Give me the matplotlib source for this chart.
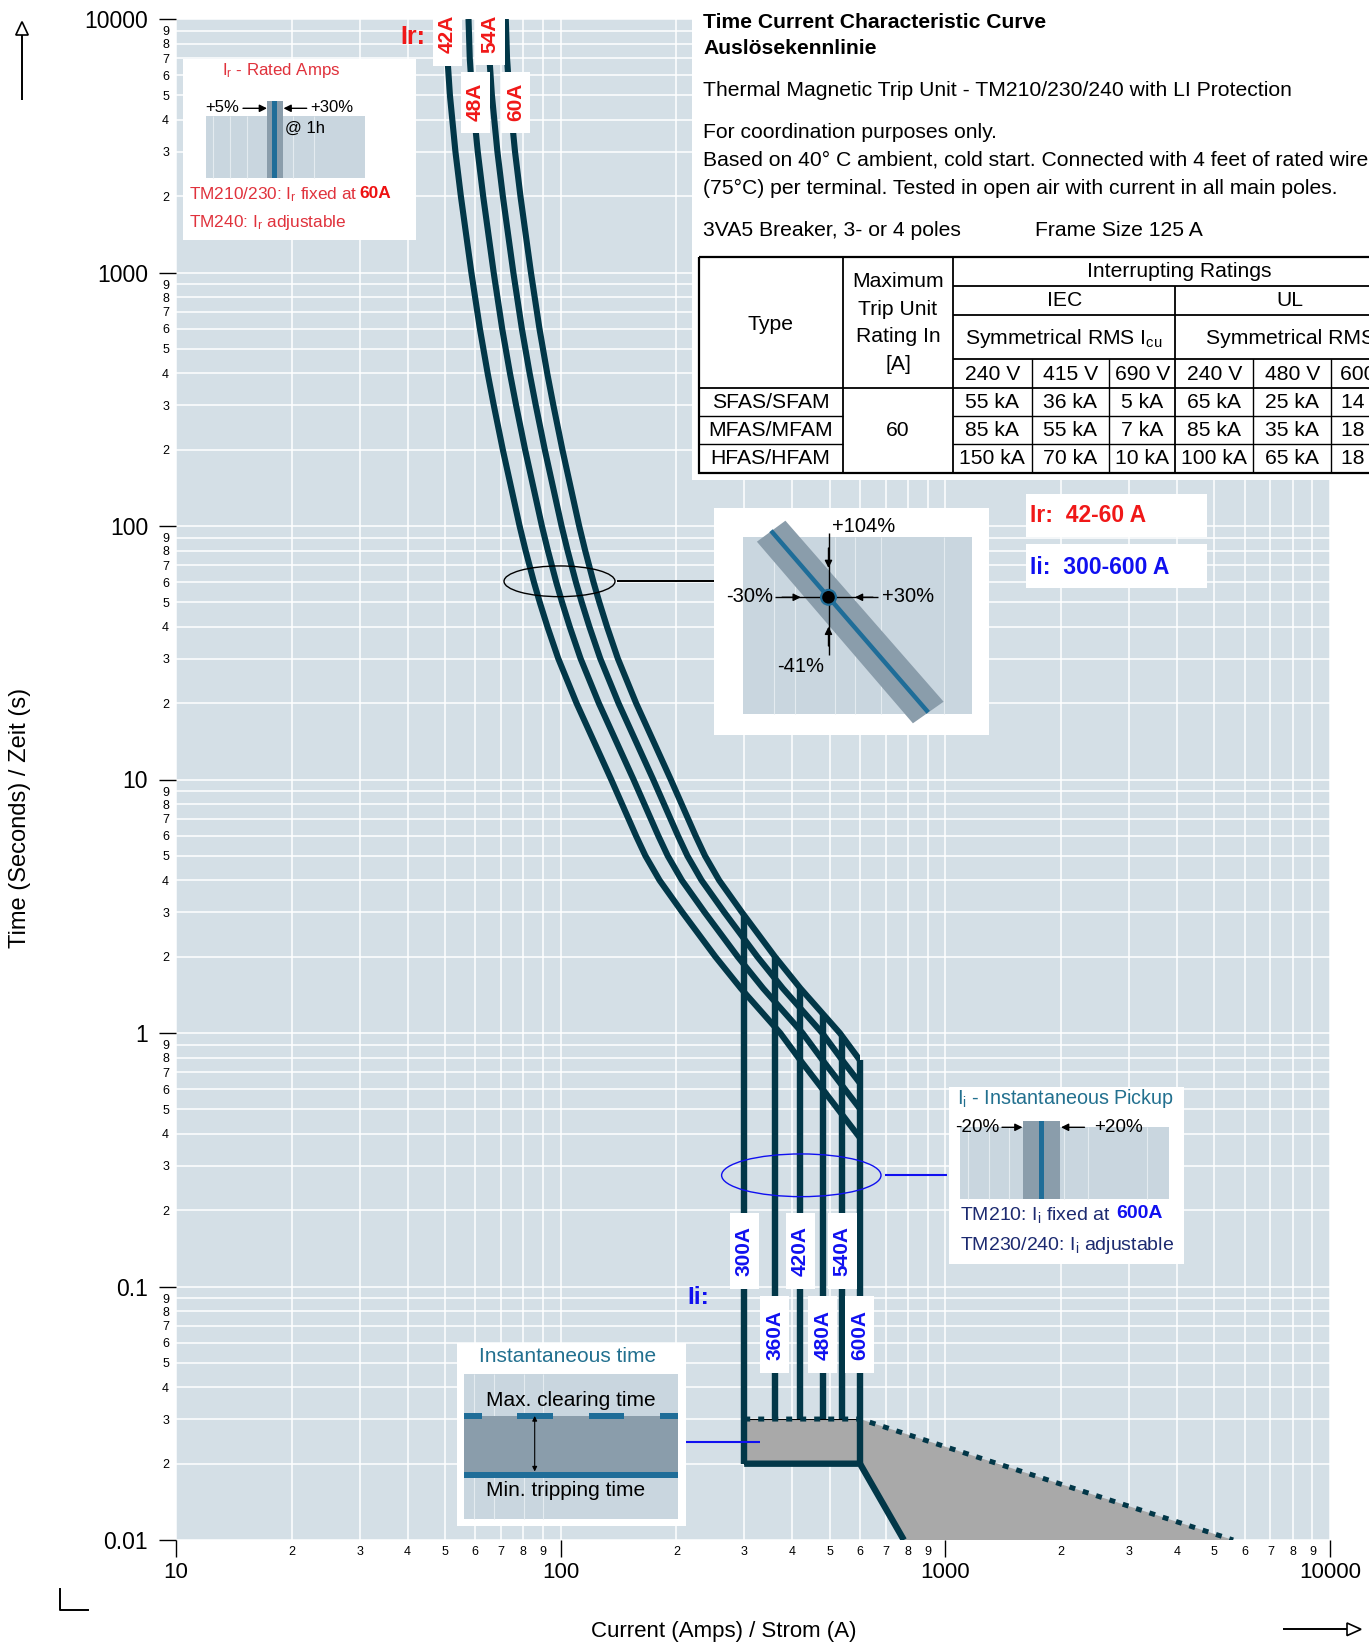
import numpy as np
import matplotlib
matplotlib.use('Agg')
import matplotlib.pyplot as plt
from matplotlib.patches import Rectangle, Polygon, Ellipse, Circle
from matplotlib.ticker import FixedLocator, FixedFormatter

plt.rcParams['font.family'] = ['Liberation Sans', 'DejaVu Sans']
plt.rcParams['mathtext.fontset'] = 'custom'
plt.rcParams['mathtext.rm'] = 'Liberation Sans'
plt.rcParams['mathtext.it'] = 'Liberation Sans:italic'
plt.rcParams['mathtext.bf'] = 'Liberation Sans:bold'

# ---------------- data ----------------
ir_settings = [42, 48, 54, 60]
ii_settings = [300, 360, 420, 480, 540, 600]
trip_multiple = [1.200, 1.209, 1.227, 1.268, 1.310, 1.395, 1.468, 1.538, 1.595, 1.684,
                 1.862, 1.930, 2.029, 2.101, 2.200, 2.347, 2.618, 3.222, 3.737, 3.954,
                 4.305, 4.927, 6.010, 7.00, 8.86, 10.0, 14.3]
trip_time = [10000, 7000, 5000, 3000, 2000, 1000, 600, 400, 300, 200,
             100, 80, 60, 50, 40, 30, 20, 10, 6, 5,
             4, 3, 2, 1.5, 1, 0.78, 0.385]
inst_min_time = 0.02
inst_max_time = 0.03
max_clear_current = [300, 600, 5600]
max_clear_time = [0.03, 0.03, 0.01]
min_trip_current = [300, 600, 780]
min_trip_time = [0.02, 0.02, 0.01]

x_major_ticks = [10, 100, 1000, 10000]
x_major_labels = ['10', '100', '1000', '10000']
y_major_ticks = [0.01, 0.1, 1, 10, 100, 1000, 10000]
y_major_labels = ['0.01', '0.1', '1', '10', '100', '1000', '10000']
minor_digits = [2, 3, 4, 5, 6, 7, 8, 9]

table_types = ['SFAS/SFAM', 'MFAS/MFAM', 'HFAS/HFAM']
table_max_rating = 60
iec_voltages = ['240 V', '415 V', '690 V']
ul_voltages = ['240 V', '480 V', '600 V']
iec_ka = [[55, 36, 5], [85, 55, 7], [150, 70, 10]]
ul_ka = [[65, 25, 14], [85, 35, 18], [100, 65, 18]]

# ---------------- style ----------------
BG = '#d4dfe6'
NAVY = '#023748'
GRAYFILL = '#a9a9a9'
INSET_BG = '#c9d6df'
BAND = '#8a9dab'
STRIPE = '#1f6d98'
TEAL = '#22708f'
RED = '#f01818'
IRED = '#e0323c'
BLUE = '#1010f0'
NAVYTXT = '#1c2a70'

W, H = 1369, 1645
fig = plt.figure(figsize=(W / 100, H / 100), dpi=100)
fig.patch.set_facecolor('white')
ax = fig.add_axes([176 / W, 1 - 1540 / H, 1154 / W, 1521 / H])
ax.set_xscale('log')
ax.set_yscale('log')
ax.set_xlim(10, 10000)
ax.set_ylim(0.01, 10000)
ax.set_facecolor(BG)
for s in ax.spines.values():
    s.set_visible(False)

ax.xaxis.set_major_locator(FixedLocator(x_major_ticks))
ax.xaxis.set_major_formatter(FixedFormatter(x_major_labels))
xminor = [d * 10 ** k for k in range(1, 4) for d in minor_digits]
ax.xaxis.set_minor_locator(FixedLocator(xminor))
ax.xaxis.set_minor_formatter(FixedFormatter([str(d) for k in range(1, 4) for d in minor_digits]))
ax.yaxis.set_major_locator(FixedLocator(y_major_ticks))
ax.yaxis.set_major_formatter(FixedFormatter(y_major_labels))
yminor = [d * 10.0 ** k for k in range(-2, 4) for d in minor_digits]
ax.yaxis.set_minor_locator(FixedLocator(yminor))
ax.yaxis.set_minor_formatter(FixedFormatter([str(d) for k in range(-2, 4) for d in minor_digits]))

ax.tick_params(axis='x', which='major', length=12, width=1, color='k', labelsize=16, pad=4)
ax.tick_params(axis='y', which='major', length=12, width=1, color='k', labelsize=16.5, pad=8)
ax.tick_params(axis='x', which='minor', length=0, labelsize=9, pad=4.5)
ax.tick_params(axis='y', which='minor', length=0, labelsize=9, pad=5)
ax.grid(True, which='both', color='white', lw=1.1)
ax.set_axisbelow(True)

mult = np.array(trip_multiple)
tt = np.array(trip_time)

# thermal curves (clipped at the highest instantaneous setting)
clip = Rectangle((1, 0.01), ii_settings[-1] - 1, 10000, transform=ax.transData)
for ir in ir_settings:
    ln, = ax.plot(mult * ir, tt, color=NAVY, lw=4.4, solid_capstyle='butt',
                  solid_joinstyle='round', zorder=4)
    ln.set_clip_path(clip)

# instantaneous verticals from the upper (60 A) curve down to min tripping time
top_t = np.exp(np.interp(np.log(np.array(ii_settings) / ir_settings[-1]), np.log(mult), np.log(tt)))
for ii, t0 in zip(ii_settings, top_t):
    edge = ii in (ii_settings[0], ii_settings[-1])
    ax.plot([ii, ii], [t0, inst_min_time], color=NAVY, lw=4.6, solid_capstyle='butt',
            zorder=6 if edge else 4)

# instantaneous clearing band
ax.add_patch(Rectangle((ii_settings[0], inst_min_time), ii_settings[-1] - ii_settings[0],
                       inst_max_time - inst_min_time, fc=GRAYFILL, ec='black', lw=0.8, zorder=5))
ax.add_patch(Polygon([(max_clear_current[1], max_clear_time[1]), (max_clear_current[2], max_clear_time[2]),
                      (min_trip_current[2], min_trip_time[2]), (min_trip_current[1], min_trip_time[1])],
                     closed=True, fc=GRAYFILL, ec='none', zorder=3))
ax.plot(min_trip_current, min_trip_time, color=NAVY, lw=4.6, solid_joinstyle='miter',
        solid_capstyle='butt', zorder=6)
ax.plot(max_clear_current, max_clear_time, color=NAVY, lw=3.6, ls=(0, (1.2, 1.6)),
        dash_capstyle='butt', zorder=7)

# ---------------- overlay in pixel coordinates ----------------
ov = fig.add_axes([0, 0, 1, 1], zorder=10)
ov.set_xlim(0, W)
ov.set_ylim(H, 0)
ov.axis('off')


def d2o(I, t):
    X, Y = ax.transData.transform((I, t))
    return X, H - Y


def rect(x0, y0, x1, y1, fc, ec='none', lw=0, z=1):
    ov.add_patch(Rectangle((x0, y0), x1 - x0, y1 - y0, fc=fc, ec=ec, lw=lw, zorder=z))


def seg(xs, ys, color='k', lw=1.0, z=3):
    ov.plot(xs, ys, color=color, lw=lw, zorder=z, solid_capstyle='butt')


def arrow(tip, tail, ms=11, color='k'):
    ov.annotate('', xy=tip, xytext=tail, zorder=5,
                arrowprops=dict(arrowstyle='-|>', color=color, lw=1.0, mutation_scale=ms,
                                shrinkA=0, shrinkB=0))


def txt(x, y, s, size=15.2, ha='left', va='center', color='black', weight='normal', z=4, **kw):
    ov.text(x, y, s, fontsize=size, ha=ha, va=va, color=color, fontweight=weight, zorder=z, **kw)


# top-right information panel
rect(692, 0, 1369, 480, 'white', z=1)
txt(703, 22, 'Time Current Characteristic Curve', weight='bold')
txt(703, 48, 'Auslösekennlinie', weight='bold')
txt(703, 91, 'Thermal Magnetic Trip Unit - TM210/230/240 with LI Protection')
txt(703, 133, 'For coordination purposes only.')
txt(703, 160, 'Based on 40° C ambient, cold start. Connected with 4 feet of rated wire')
txt(703, 188, '(75°C) per terminal. Tested in open air with current in all main poles.')
txt(703, 230, '3VA5 Breaker, 3- or 4 poles')
txt(1035, 230, 'Frame Size 125 A')

# table
cx = [698.5, 842.6, 953.3, 1031.5, 1109.3, 1175.2, 1253.4, 1331.1, 1405]
ry = [256.7, 286, 315.3, 359, 388.3, 416, 444, 472.7]
ov.add_patch(Rectangle((cx[0], ry[0]), cx[-1] - cx[0], ry[-1] - ry[0], fill=False, ec='k', lw=1.6, zorder=3))
for x in (cx[1], cx[2]):
    seg([x, x], [ry[0], ry[-1]], lw=1.3)
for y in (ry[1], ry[2], ry[3]):
    seg([cx[2], cx[-1]], [y, y], lw=1.3)
seg([cx[5], cx[5]], [ry[1], ry[-1]], lw=1.3)
for x in (cx[3], cx[4], cx[6], cx[7]):
    seg([x, x], [ry[3], ry[-1]], lw=1.0)
seg([cx[0], cx[-1]], [ry[4], ry[4]], lw=1.3)
for y in (ry[5], ry[6]):
    seg([cx[0], cx[1]], [y, y], lw=1.0)
    seg([cx[2], cx[-1]], [y, y], lw=1.0)

txt((cx[0] + cx[1]) / 2, 325, 'Type', ha='center')
for s, y in zip(['Maximum', 'Trip Unit', 'Rating In', '[A]'], [281.7, 309.3, 336.7, 365]):
    txt((cx[1] + cx[2]) / 2, y, s, ha='center')
txt((cx[2] + cx[-1]) / 2, 271.5, 'Interrupting Ratings', ha='center')
txt((cx[2] + cx[5]) / 2, 301, 'IEC', ha='center')
txt((cx[5] + cx[-1]) / 2, 301, 'UL', ha='center')
txt((cx[2] + cx[5]) / 2, 338, r'Symmetrical RMS I$_\mathrm{cu}$', ha='center')
txt((cx[5] + cx[-1]) / 2, 338, 'Symmetrical RMS', ha='center')
volts = iec_voltages + ul_voltages
for i, v in enumerate(volts):
    txt((cx[2 + i] + cx[3 + i]) / 2, 375, v, ha='center')
row_c = [403, 431, 459]
for r, (tp, iec, ul) in enumerate(zip(table_types, iec_ka, ul_ka)):
    txt((cx[0] + cx[1]) / 2, row_c[r], tp, ha='center')
    for i, v in enumerate(iec + ul):
        txt((cx[2 + i] + cx[3 + i]) / 2, row_c[r], f'{v} kA', ha='center')
txt((cx[1] + cx[2]) / 2, row_c[1], str(table_max_rating), ha='center')

# Ir / Ii summary boxes
rect(1026, 494, 1207, 537, 'white', z=2)
txt(1030, 516, f'Ir:  {ir_settings[0]}-{ir_settings[-1]} A', size=16.5, weight='bold', color=RED)
rect(1026, 544, 1207, 588, 'white', z=2)
txt(1030, 567, f'Ii:  {ii_settings[0]}-{ii_settings[-1]} A', size=16.5, weight='bold', color=BLUE)

# Ir labels on the curves
txt(412.7, 37.5, 'Ir:', size=18, weight='bold', color=RED, ha='center')
ir_boxes = [(433.3, 15, 461.7, 65.7, 34), (461, 71.7, 490, 132.7, 102),
            (475, 15, 505, 65, 34), (501, 71.7, 530, 132.7, 102)]
for ir, (x0, y0, x1, y1, yc) in zip(ir_settings, ir_boxes):
    rect(x0, y0, x1, y1, 'white', z=2)
    txt((x0 + x1) / 2, yc, f'{ir}A', size=15, weight='bold', color=RED, ha='center', rotation=90)

# Ii labels on the verticals
txt(698, 1297, 'Ii:', size=17.5, weight='bold', color=BLUE, ha='center')
for k, ii in enumerate(ii_settings):
    xc = d2o(ii, 1)[0]
    yc = 1251 if k % 2 == 0 else 1334.5
    rect(xc - 14.5, yc - 38.3, xc + 14.5, yc + 38.3, 'white', z=2)
    txt(xc, yc, f'{ii}A', size=15, weight='bold', color=BLUE, ha='center', rotation=90)

# ---- inset 1 : Ir rated amps ----
rect(183, 58.5, 416, 240, 'white', z=2)
txt(281.5, 70.7, r'I$_\mathrm{r}$ - Rated Amps', size=12.2, color=IRED, ha='center')
rect(205.7, 115.7, 365, 178.3, INSET_BG, z=3)
for x in [213.3, 230, 247.3, 293.3, 314]:
    seg([x, x], [115.7, 178.3], color='#e4ebf0', lw=0.8, z=3)
rect(267.3, 100.7, 282.7, 178.3, BAND, z=3)
rect(271.7, 100.7, 277.3, 178.3, STRIPE, z=3)
txt(205, 107.5, '+5%', size=12)
arrow((267, 108.3), (243, 108.3))
txt(310, 107.5, '+30%', size=12)
arrow((283.5, 108.3), (306.7, 108.3))
txt(285, 128.5, '@ 1h', size=12)
txt(189, 195, r'TM210/230: I$_\mathrm{r}$ fixed at', size=12.4, color=IRED)
txt(359, 193.5, f'{ir_settings[-1]}A', size=12.4, color='#ee1111', weight='bold')
txt(189, 222, r'TM240: I$_\mathrm{r}$ adjustable', size=12.4, color=IRED)

# ---- inset 2 : thermal tolerance ----
ov.add_patch(Ellipse((559.5, 581.3), 111, 30.7, fill=False, ec='k', lw=1.0, zorder=4))
seg([616.7, 714], [581.3, 581.3], lw=1.4)
rect(714, 507.5, 989, 735, 'white', z=2)
rect(742.8, 537.3, 972.2, 714, INSET_BG, z=3)
for x in [773.6, 795, 834.7, 854.9, 880.8, 943.6]:
    seg([x, x], [537.3, 714], color='#e4ebf0', lw=0.8, z=3)
ov.add_patch(Polygon([(756.9, 541.7), (785.4, 520.7), (943.6, 701.7), (912.9, 723.3)],
                     closed=True, fc=BAND, ec='none', zorder=3))
seg([771, 928.2], [530.7, 712.3], color=STRIPE, lw=3.2, z=3)
seg([828.5, 828.5], [533, 655], lw=1.0, z=4)
seg([774.5, 877.7], [597.3, 597.3], lw=1.0, z=4)
ov.add_patch(Circle((828.5, 597.3), 8.5, fc=STRIPE, ec='none', zorder=5))
ov.add_patch(Circle((828.5, 597.3), 6.3, fc='black', ec='none', zorder=6))
arrow((828.5, 568), (828.5, 548))
arrow((828.5, 626.7), (828.5, 646))
arrow((800.8, 597.3), (782, 597.3))
arrow((854.9, 597.3), (873, 597.3))
txt(831.6, 526.7, '+104%', size=14.5)
txt(726, 596.7, '-30%', size=14.5)
txt(882, 596.7, '+30%', size=14.5)
txt(777.5, 666.7, '-41%', size=14.5)

# ---- inset 3 : instantaneous pickup ----
ov.add_patch(Ellipse((801.3, 1175.3), 159.4, 42.7, fill=False, ec=BLUE, lw=1.0, zorder=4))
seg([884.5, 947.2], [1175, 1175], color=BLUE, lw=1.5)
rect(949.2, 1087.3, 1183.6, 1264.3, 'white', z=2)
txt(957, 1098.3, r'I$_\mathrm{i}$ - Instantaneous Pickup', size=14.2, color=TEAL)
rect(959.5, 1126.7, 1169, 1199.3, INSET_BG, z=3)
for x in [967.8, 989, 1008.5, 1063.5, 1088, 1146.8]:
    seg([x, x], [1126.7, 1199.3], color='#e4ebf0', lw=0.8, z=3)
rect(1023, 1121, 1059.5, 1199.3, BAND, z=3)
rect(1039, 1121, 1043.8, 1199.3, STRIPE, z=3)
txt(955, 1127.3, '-20%', size=13.6)
arrow((1022.5, 1127.3), (1002, 1127.3))
txt(1094, 1127.3, '+20%', size=13.6)
arrow((1061, 1127.3), (1084.5, 1127.3))
txt(960.5, 1215, r'TM210: I$_\mathrm{i}$ fixed at', size=14, color=NAVYTXT)
txt(1116, 1213.5, f'{ii_settings[-1]}A', size=14, color=BLUE, weight='bold')
txt(960.5, 1245, r'TM230/240: I$_\mathrm{i}$ adjustable', size=14, color=NAVYTXT)

# ---- inset 4 : instantaneous time ----
seg([686, 759.7], [1441.7, 1441.7], color=BLUE, lw=1.5, z=4)
rect(457, 1343.3, 686.2, 1526, 'white', z=2)
txt(568, 1356, 'Instantaneous time', size=15, color=TEAL, ha='center')
rect(463.7, 1374, 678.1, 1519, INSET_BG, z=3)
for x in [474, 494, 523.6, 543.4]:
    seg([x, x], [1374, 1519], color='#e4ebf0', lw=0.8, z=3)
rect(463.7, 1415.7, 678.1, 1475, BAND, z=3)
for x0, x1 in [(463.7, 481.6), (517.4, 552.7), (588.5, 623.7), (659.6, 678.1)]:
    rect(x0, 1412.8, x1, 1418.5, STRIPE, z=3)
rect(463.7, 1471.7, 678.1, 1477.7, STRIPE, z=3)
ov.annotate('', xy=(534.7, 1416), xytext=(534.7, 1471.5), zorder=5,
            arrowprops=dict(arrowstyle='<|-|>', color='k', lw=0.8, mutation_scale=7,
                            shrinkA=0, shrinkB=0))
txt(486.5, 1400, 'Max. clearing time', size=15)
txt(486.5, 1491, 'Min. tripping time', size=15)

# ---- axis titles and arrows ----
txt(20, 818, 'Time (Seconds) / Zeit (s)', size=17, ha='center', rotation=90)
txt(724, 1631, 'Current (Amps) / Strom (A)', size=16, ha='center')
seg([22, 22], [100, 34], lw=1.4)
ov.add_patch(Polygon([(22, 21.7), (15.8, 35), (28.2, 35)], closed=True, fc='white', ec='k', lw=1.2, zorder=4))
seg([1282.6, 1347], [1629.3, 1629.3], lw=1.4)
ov.add_patch(Polygon([(1361, 1629.3), (1347, 1623), (1347, 1635.6)], closed=True, fc='white', ec='k', lw=1.2, zorder=4))
ov.plot([60, 60, 88.3], [1589, 1610, 1610], color='k', lw=1.4, zorder=4)

fig.savefig('out.png', dpi=100)
